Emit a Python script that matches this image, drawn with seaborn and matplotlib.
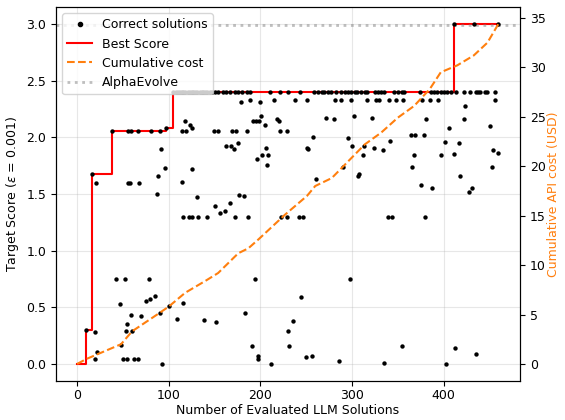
import matplotlib
matplotlib.use("Agg")
import matplotlib.pyplot as plt
import numpy as np
import pandas as pd
import seaborn as sns

# Correct solutions: index of evaluated solution and its target score
sol_x = [10, 16, 20, 21, 22, 20, 38, 42, 47, 48, 50, 52, 53, 54, 55, 56, 56, 58, 59, 59,
         60, 62, 66, 67, 68, 70, 75, 79, 80, 81, 85, 87, 88, 90, 91, 92, 93, 96, 97, 100,
         105, 108, 110, 112, 114, 116, 118, 121, 123, 125, 127, 129, 131, 134, 136, 138, 140, 142, 145, 147,
         151, 154, 159, 163, 167, 172, 176, 180, 185, 189, 211, 222, 230,
         243, 259, 263, 267, 270, 274, 277, 283, 288, 292, 296, 299, 303, 306, 310, 314, 317, 325, 328,
         332, 335, 346, 350, 355, 357, 374, 386, 390, 393, 397, 401, 404, 408,
         414, 422, 429, 436, 438, 440, 445, 447, 456,
         109, 115, 115, 116, 116, 118, 119, 122, 123, 125, 126, 126, 131, 132, 139, 142, 149, 151, 152, 154,
         156, 161, 163, 167, 168, 169, 171, 172, 174, 176, 177, 179, 182, 183, 186, 187, 189, 191, 194, 192,
         195, 196, 197, 198, 199, 200, 201, 202, 205, 206, 207, 208, 212, 215, 218, 220, 222, 223, 229, 229,
         230, 231, 236, 238, 242, 244, 247, 250, 251, 252, 256, 257, 261, 272, 281, 286, 290, 296, 298, 300,
         302, 307, 308, 251, 282, 288, 299, 317, 326, 330, 340, 348, 356, 376, 385, 394, 456,
         312, 313, 322, 324, 334, 335, 339, 342, 344, 355, 364, 366, 368, 369, 375, 379, 380, 381, 387, 397,
         402, 403, 406, 411, 412, 413, 417, 418, 422, 424, 428, 431, 433, 435, 451, 453, 454, 459, 460]
sol_score = [0.30, 1.68, 0.28, 1.60, 0.11, 0.04, 2.06, 0.75, 0.53, 0.17, 0.04, 0.75, 0.29, 0.35, 0.04, 1.60, 2.06, 1.60, 0.43, 2.06,
             0.29, 0.04, 2.06, 0.04, 1.60, 0.42, 0.56, 0.75, 0.57, 2.06, 0.60, 1.50, 1.66, 0.45, 2.06, 1.90, 0.00, 1.73, 2.08, 0.51,
             2.40, 2.40, 2.40, 2.40, 2.40, 2.40, 2.40, 2.40, 2.40, 2.40, 2.40, 2.40, 2.40, 2.40, 2.40, 2.40, 2.40, 2.40, 2.40, 2.40,
             2.40, 2.40, 2.40, 2.40, 2.40, 2.40, 2.40, 2.40, 2.40, 2.40, 2.40, 2.40, 2.40,
             2.40, 2.40, 2.40, 2.40, 2.40, 2.40, 2.40, 2.40, 2.40, 2.40, 2.40, 2.40, 2.40, 2.40, 2.40, 2.40, 2.40, 2.40, 2.40,
             2.40, 2.40, 2.40, 2.40, 2.40, 2.40, 2.40, 2.40, 2.40, 2.40, 2.40, 2.40, 2.40, 2.40,
             2.40, 2.40, 2.40, 2.40, 2.40, 2.40, 2.40, 2.40, 2.40,
             0.40, 2.06, 1.61, 0.54, 1.30, 2.14, 2.06, 1.30, 2.11, 2.08, 1.72, 1.30, 1.47, 1.30, 0.39, 1.30, 2.06, 1.39, 0.37, 2.06,
             1.33, 1.35, 1.92, 1.42, 1.92, 2.06, 1.90, 1.30, 2.06, 1.95, 1.49, 2.31, 1.48, 0.45, 2.06, 1.30, 2.33, 0.16, 0.75, 2.14,
             2.14, 1.81, 0.04, 0.07, 2.14, 2.31, 2.19, 1.84, 2.11, 1.91, 1.76, 1.84, 0.00, 2.33, 2.16, 2.14, 2.06, 1.30, 2.06, 1.30,
             0.29, 0.16, 0.38, 2.33, 1.30, 0.59, 1.30, 0.06, 1.91, 1.90, 0.07, 2.00, 1.63, 2.17, 2.16, 0.03, 1.74, 1.99, 0.75, 1.92,
             2.19, 1.66, 1.68, 2.33, 2.33, 2.33, 2.33, 2.33, 2.33, 2.33, 2.33, 2.33, 2.33, 2.33, 2.33, 2.33, 2.33,
             1.84, 1.92, 2.17, 1.91, 1.89, 0.01, 1.30, 1.97, 1.30, 0.16, 2.02, 1.74, 1.84, 2.02, 1.58, 2.02, 1.30, 2.16, 1.55, 1.84,
             1.96, 0.00, 2.08, 3.00, 1.85, 0.14, 1.95, 1.66, 2.16, 2.28, 1.52, 1.55, 3.00, 0.09, 2.10, 1.74, 1.89, 1.86, 3.00]

# Cumulative API cost (USD) read at a few solution counts
cost_x = [0, 10, 48, 60, 89, 100, 118, 140, 154, 176, 187, 198, 227, 251, 260, 278,
          296, 314, 332, 350, 368, 385, 397, 415, 433, 448, 460]
cost_usd = [0.0, 0.5, 2.0, 3.3, 5.1, 5.8, 7.2, 8.4, 9.2, 11.2, 11.7, 12.6, 15.1, 17.0, 18.0, 18.8,
            20.5, 22.2, 23.4, 24.9, 26.1, 27.8, 29.5, 30.2, 31.2, 32.5, 34.4]

alpha_evolve = 2.99

plt.rcParams['font.size'] = 9

sols = pd.DataFrame({'n': sol_x, 'score': sol_score}).sort_values('n', kind='stable')

# Best score so far (step line starting from 0 at the origin)
best = sols.groupby('n').score.max().cummax().reset_index()
best = pd.concat([pd.DataFrame({'n': [0], 'score': [0.0]}), best], ignore_index=True)

fig = plt.figure(figsize=(5.65, 4.2), dpi=100)
ax = fig.add_axes([56 / 565, 1 - 381 / 420, 464 / 565, 374 / 420])
ax2 = ax.twinx()

ax.grid(True, color='#b0b0b0', alpha=0.3)
ax.set_axisbelow(True)

sns.lineplot(data=best, x='n', y='score', ax=ax, color='red', lw=1.5,
             drawstyle='steps-post', estimator=None, sort=False, zorder=2)
sns.scatterplot(data=sols, x='n', y='score', ax=ax, color='black', s=10,
                linewidth=0, zorder=3)
ax.axhline(alpha_evolve, color='gray', ls=':', lw=2, alpha=0.5)

sns.lineplot(x=cost_x, y=cost_usd, ax=ax2, color='tab:orange', ls='--', lw=1.5,
             estimator=None)

ax.set_xlim(-23, 483.5)
ax.set_ylim(-0.15, 3.15)
ax2.set_ylim(-1.72, 36.1)
ax.set_xticks([0, 100, 200, 300, 400])
ax.set_yticks(np.arange(0, 3.01, 0.5))
ax2.set_yticks(np.arange(0, 36, 5))
ax.tick_params(axis='x', pad=2.5)

ax.set_xlabel('Number of Evaluated LLM Solutions', labelpad=1)
ax.set_ylabel(r'Target Score ($\epsilon$ = 0.001)')
ax2.set_ylabel('Cumulative API cost (USD)', color='tab:orange', labelpad=1)

handles = [
    plt.Line2D([], [], color='black', marker='o', ms=3, ls='None'),
    plt.Line2D([], [], color='red', lw=1.5),
    plt.Line2D([], [], color='tab:orange', ls='--', lw=1.5),
    plt.Line2D([], [], color='gray', ls=':', lw=2, alpha=0.5),
]
labels = ['Correct solutions', 'Best Score', 'Cumulative cost', 'AlphaEvolve']
ax2.legend(handles, labels, loc='upper left')

fig.savefig('out.png', dpi=100)
